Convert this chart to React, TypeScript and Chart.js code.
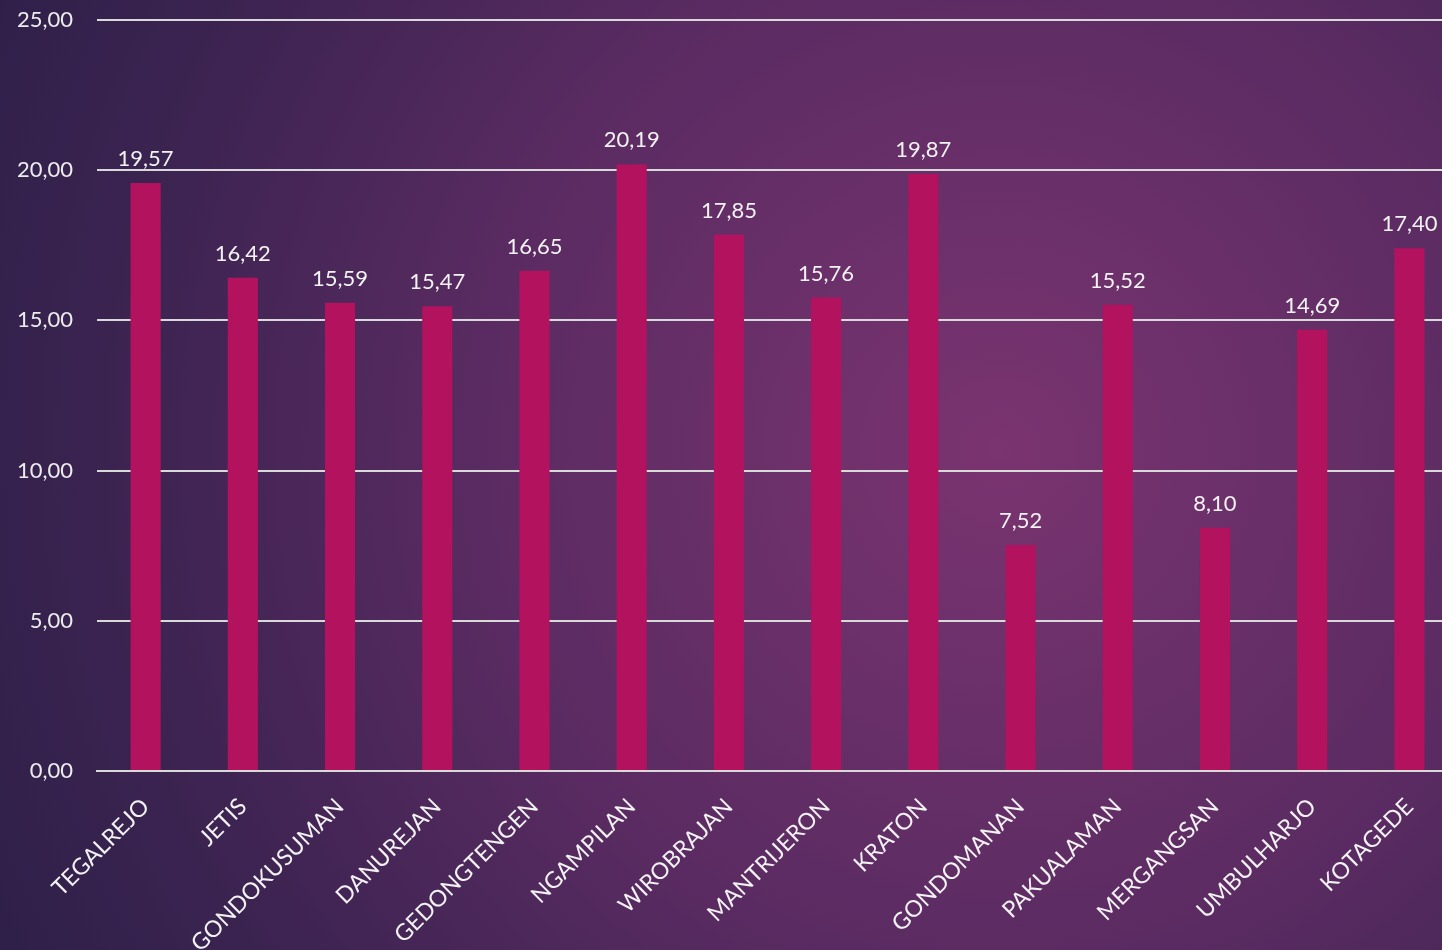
import React, { useEffect, useRef } from "react";
import { Chart, registerables } from "chart.js";

Chart.register(...registerables);

const categories = [
  "TEGALREJO", "JETIS", "GONDOKUSUMAN", "DANUREJAN", "GEDONGTENGEN", "NGAMPILAN",
  "WIROBRAJAN", "MANTRIJERON", "KRATON", "GONDOMANAN", "PAKUALAMAN", "MERGANGSAN",
  "UMBULHARJO", "KOTAGEDE",
];
const values = [19.57, 16.42, 15.59, 15.47, 16.65, 20.19, 17.85, 15.76, 19.87, 7.52, 15.52, 8.1, 14.69, 17.4];
const yTicks = [0, 5, 10, 15, 20, 25];

const FONT = "Lato, 'Open Sans', sans-serif";
const fmt = (v: number) => v.toFixed(2).replace(".", ",");

const dataLabels = {
  id: "dataLabels",
  afterDatasetsDraw(chart: any) {
    const ctx = chart.ctx;
    const meta = chart.getDatasetMeta(0);
    ctx.save();
    ctx.fillStyle = "#f2f2f2";
    ctx.font = `22px ${FONT}`;
    ctx.textAlign = "center";
    ctx.textBaseline = "alphabetic";
    meta.data.forEach((bar: any, i: number) => {
      ctx.fillText(fmt(values[i]), bar.x, bar.y - 17);
    });
    ctx.restore();
  },
};

export default function App() {
  const ref = useRef<HTMLCanvasElement>(null);
  useEffect(() => {
    const chart = new Chart(ref.current!, {
      type: "bar",
      data: {
        labels: categories,
        datasets: [
          {
            data: values,
            backgroundColor: "#b3125f",
            barPercentage: 0.62,
            categoryPercentage: 0.5,
          },
        ],
      },
      options: {
        animation: false,
        responsive: true,
        maintainAspectRatio: false,
        layout: { padding: { top: 20, right: 0, left: 0, bottom: 0 } },
        plugins: { legend: { display: false }, tooltip: { enabled: false } },
        scales: {
          x: {
            grid: { display: false, drawTicks: false },
            border: { color: "#d9d9d9", width: 2 },
            ticks: {
              color: "#f2f2f2",
              font: { family: FONT, size: 23 },
              maxRotation: 45,
              minRotation: 45,
              padding: 22,
              autoSkip: false,
            },
            afterFit(scale: any) {
              scale.height = 179;
              scale.paddingLeft = 0;
              scale.paddingRight = 0;
            },
          },
          y: {
            min: 0,
            max: 25,
            afterBuildTicks(scale: any) {
              scale.ticks = yTicks.map((v) => ({ value: v }));
            },
            grid: { color: "#d9d9d9", lineWidth: 2, drawTicks: false },
            border: { display: false },
            ticks: {
              color: "#ececec",
              font: { family: FONT, size: 22 },
              padding: 24,
              callback: (v: any) => fmt(Number(v)),
            },
            afterFit(scale: any) {
              scale.width = 97;
              scale.paddingTop = 0;
              scale.paddingBottom = 0;
            },
          },
        },
      },
      plugins: [dataLabels],
    });
    return () => chart.destroy();
  }, []);
  return (
    <div
      style={{
        position: "fixed",
        left: 0,
        top: 0,
        width: 1442,
        height: 950,
        overflow: "hidden",
        background:
          "radial-gradient(circle at 1000px 450px, #7a3470 0px, #5a2b62 520px, #3e2452 850px, #2c1f48 1150px)",
      }}
    >
      <div style={{ position: "absolute", left: 0, top: 0, width: 1458, height: 950 }}>
        <canvas ref={ref} />
      </div>
    </div>
  );
}
